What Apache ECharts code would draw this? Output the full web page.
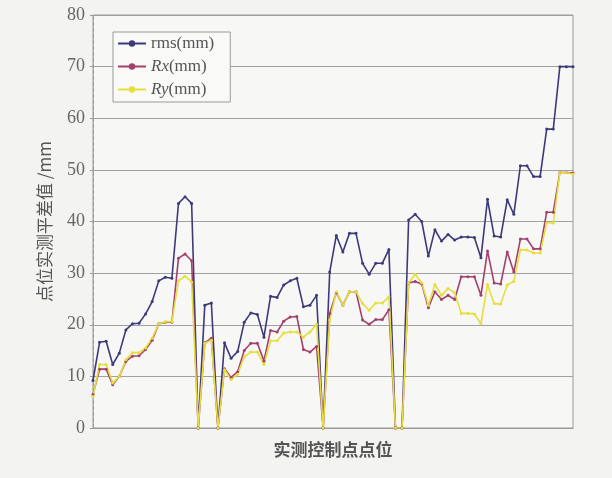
<!DOCTYPE html>
<html>
<head>
<meta charset="utf-8">
<script src="https://cdn.jsdelivr.net/npm/echarts@6/dist/echarts.min.js"></script>
<style>
html,body{margin:0;padding:0;background:#f3f3f1;}
#c{width:612px;height:478px;}
</style>
</head>
<body>
<div id="c"></div>
<script>
var categories = [];
for (var k = 1; k <= 74; k++) categories.push(String(k));

var rms = [9.2,16.6,16.8,12.3,14.5,19.0,20.2,20.3,22.1,24.5,28.5,29.2,29.0,43.5,44.8,43.5,0,23.8,24.2,0,
16.5,13.5,14.8,20.5,22.3,22.0,17.6,25.5,25.3,27.7,28.5,29.0,23.5,23.8,25.7,0,30.2,37.3,34.1,37.7,
37.7,31.9,29.8,31.9,31.9,34.6,0,0,40.3,41.4,40.0,33.3,38.4,36.2,37.5,36.4,37.0,37.0,36.9,33.0,
44.3,37.2,37.0,44.2,41.4,50.8,50.8,48.7,48.7,57.9,57.9,70,70,70];

var rx = [6.5,11.4,11.4,8.4,10.0,12.9,13.9,14.0,15.2,17.0,20.2,20.5,20.5,32.9,33.7,32.4,0,16.5,17.4,0,
11.5,9.8,10.9,15.0,16.4,16.4,13.0,18.9,18.6,20.7,21.5,21.6,15.2,14.7,15.8,0,22.2,26.2,23.8,26.4,
26.4,20.9,20.1,21.0,21.0,22.9,0,0,28.1,28.4,27.9,23.3,26.4,24.9,25.7,24.9,29.3,29.3,29.3,25.7,
34.3,28.1,27.9,34.1,30.2,36.6,36.6,34.7,34.7,41.8,41.8,49.5,49.5,49.4];

var ry = [6.1,12.3,12.3,8.7,10.0,13.2,14.6,14.6,15.5,17.4,20.2,20.6,20.6,28.5,29.4,28.3,0,16.4,17.0,0,
11.3,9.4,10.4,13.8,14.7,14.7,12.3,16.9,16.9,18.4,18.6,18.6,17.6,18.6,20.1,0,20.9,26.4,23.8,26.4,
26.4,24.1,22.8,24.2,24.2,25.4,0,0,28.1,29.8,28.1,23.8,27.8,25.7,27.0,26.2,22.2,22.2,22.1,20.2,
27.8,24.1,24.0,27.7,28.4,34.5,34.5,33.9,33.9,39.7,39.7,49.5,49.5,49.2];

var seriesNames = ['rms(mm)', 'Rx(mm)', 'Ry(mm)'];
var yTicks = [0,10,20,30,40,50,60,70,80];

var chart = echarts.init(document.getElementById('c'));
function mk(name, data, color) {
  return {
    name: name, type: 'line', data: data,
    symbol: 'circle', symbolSize: 3, showSymbol: true,
    lineStyle: {color: color, width: 1.6},
    itemStyle: {color: color},
    emphasis: {disabled: true}, animation: false
  };
}
chart.setOption({
  backgroundColor: '#f3f3f1',
  animation: false,
  grid: {left: 93, right: 39, top: 15, bottom: 50, show: true, borderColor: '#9a9a9a', borderWidth: 1, backgroundColor: '#f7f7f6'},
  legend: {
    left: 113, top: 32, orient: 'vertical', itemGap: 6,
    itemWidth: 28, itemHeight: 8,
    backgroundColor: '#f9f9f8', borderColor: '#9a9a9a', borderWidth: 1,
    padding: [3, 16, 4, 4],
    data: seriesNames,
    formatter: function (n) {
      if (n === 'Rx(mm)') return '{i|Rx}{n|(mm)}';
      if (n === 'Ry(mm)') return '{i|Ry}{n|(mm)}';
      return '{n|' + n + '}';
    },
    textStyle: {
      fontFamily: 'Liberation Serif', fontSize: 17, color: '#555',
      rich: {
        i: {fontFamily: 'Liberation Serif', fontStyle: 'italic', fontSize: 17, color: '#555'},
        n: {fontFamily: 'Liberation Serif', fontSize: 17, color: '#555'}
      }
    }
  },
  xAxis: {
    type: 'category', data: categories, boundaryGap: false,
    axisLine: {show: true, lineStyle: {color: '#9a9a9a'}},
    axisTick: {show: false}, axisLabel: {show: false},
    splitLine: {show: false},
    name: '实测控制点点位', nameLocation: 'middle', nameGap: 13,
    nameTextStyle: {fontFamily: 'Noto Sans CJK SC', fontSize: 17, color: '#555', fontWeight: 'bold'}
  },
  yAxis: {
    type: 'value', min: 0, max: 80, interval: 10,
    axisLine: {show: true, lineStyle: {color: '#9a9a9a', type: 'dashed'}},
    axisTick: {show: true, length: 3, lineStyle: {color: '#9a9a9a'}},
    axisLabel: {
      margin: 8, fontFamily: 'Liberation Serif', fontSize: 18, color: '#666',
      formatter: function (v) { return yTicks.indexOf(v) >= 0 ? String(v) : ''; }
    },
    splitLine: {show: true, lineStyle: {color: '#a0a0a0', width: 1}},
    name: '点位实测平差值 /mm', nameLocation: 'middle', nameGap: 40, nameRotate: 90,
    nameTextStyle: {fontFamily: 'Noto Sans CJK SC', fontSize: 17, color: '#555'}
  },
  series: [
    mk(seriesNames[0], rms, '#3d3a7a'),
    mk(seriesNames[1], rx, '#a3416c'),
    mk(seriesNames[2], ry, '#e6de3c')
  ]
});
</script>
</body>
</html>
